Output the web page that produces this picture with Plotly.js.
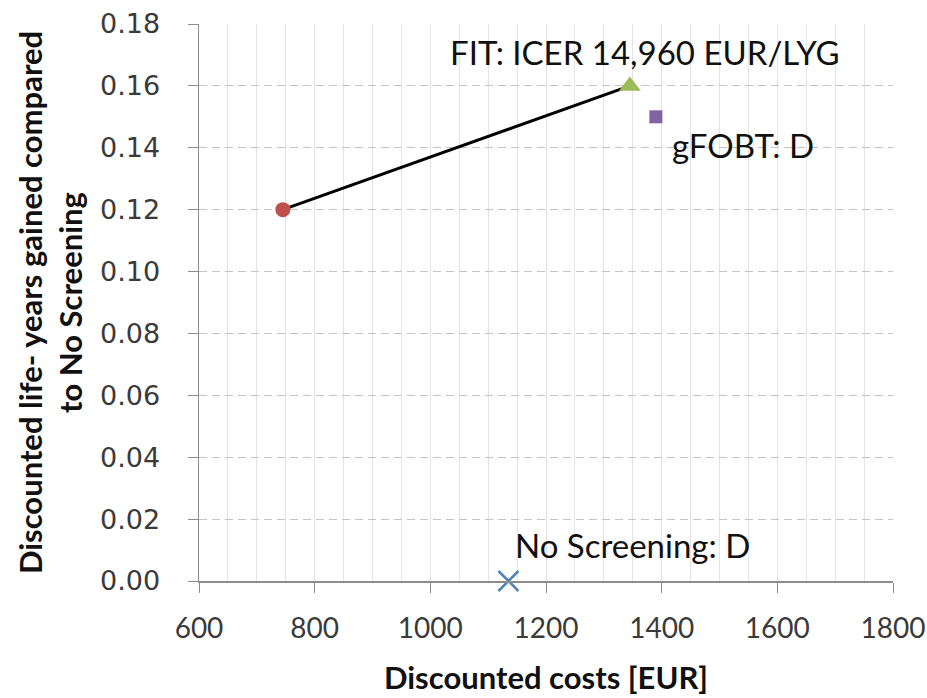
<!DOCTYPE html>
<html>
<head>
<meta charset="utf-8">
<script src="https://cdn.plot.ly/plotly-3.0.1.min.js"></script>
<style>html,body{margin:0;padding:0;background:#fff;}#chart{width:927px;height:698px;}</style>
</head>
<body>
<div id="chart"></div>
<script>
const strategies = ["No Screening", "FIT", "gFOBT", "Colonoscopy"];
const costs = [1135, 1345, 1390, 745];
const lyg = [0.0, 0.16, 0.15, 0.12];
const frontierCosts = [745, 1345];
const frontierLyg = [0.12, 0.16];
const labels = ["No Screening: D", "FIT: ICER 14,960 EUR/LYG", "gFOBT: D", ""];
const xTicks = [600, 800, 1000, 1200, 1400, 1600, 1800];
const yTicks = [0, 0.02, 0.04, 0.06, 0.08, 0.1, 0.12, 0.14, 0.16, 0.18];

const traces = [
  {x: frontierCosts, y: frontierLyg, mode: 'lines', type: 'scatter',
   line: {color: '#000000', width: 3}, hoverinfo: 'skip', showlegend: false},
  {x: [costs[0]], y: [lyg[0]], mode: 'markers', type: 'scatter', name: strategies[0],
   marker: {symbol: 'x-thin-open', size: 20, line: {color: '#4F81BD', width: 2.5}, color: '#4F81BD'}, cliponaxis: false},
  {x: [costs[1]], y: [lyg[1]], mode: 'markers', type: 'scatter', name: strategies[1],
   marker: {symbol: 'triangle-up', size: 19, color: '#9BBB59'}, cliponaxis: false},
  {x: [costs[2]], y: [lyg[2]], mode: 'markers', type: 'scatter', name: strategies[2],
   marker: {symbol: 'square', size: 13, color: '#8064A2'}, cliponaxis: false},
  {x: [costs[3]], y: [lyg[3]], mode: 'markers', type: 'scatter', name: strategies[3],
   marker: {symbol: 'circle', size: 15, color: '#C0504D'}, cliponaxis: false}
];

const annFont = {family: 'Lato, "Open Sans", sans-serif', size: 33, color: '#111111'};
const layout = {
  width: 927, height: 698,
  margin: {l: 199, r: 34, t: 24, b: 117},
  paper_bgcolor: '#ffffff', plot_bgcolor: '#ffffff',
  showlegend: false,
  xaxis: {
    range: [600, 1800], tickvals: xTicks, ticktext: xTicks.map(String),
    showgrid: true, gridcolor: '#e4e4e4', gridwidth: 1,
    minor: {dtick: 50, tick0: 600, showgrid: true, gridcolor: '#e4e4e4', gridwidth: 1},
    zeroline: false, showline: true, linecolor: '#8c8c8c', linewidth: 1.5,
    ticks: 'outside', ticklen: 10, tickcolor: '#8c8c8c',
    ticklabelstandoff: 12, ticklabeloverflow: 'allow',
    tickfont: {family: 'Lato, "Open Sans", sans-serif', size: 28, color: '#3a3a3a'},
    title: {text: '<b>Discounted costs [EUR]</b>', standoff: 24,
            font: {family: 'Lato, "Open Sans", sans-serif', size: 31, color: '#111111'}}
  },
  yaxis: {
    range: [0, 0.18], tickvals: yTicks, ticktext: yTicks.map(v => v.toFixed(2)),
    showgrid: true, gridcolor: '#c4c4c4', gridwidth: 1, griddash: '8px,5px',
    zeroline: false, showline: true, linecolor: '#8c8c8c', linewidth: 1.5,
    ticks: 'outside', ticklen: 10, tickcolor: '#8c8c8c',
    ticklabelstandoff: 22, ticklabeloverflow: 'allow',
    tickfont: {family: '"DejaVu Sans", Verdana, sans-serif', size: 27, color: '#3a3a3a'},
    title: {text: '<b>Discounted life- years gained compared<br>to No Screening</b>', standoff: 8,
            font: {family: 'Lato, "Open Sans", sans-serif', size: 31, color: '#111111'}}
  },
  annotations: [
    {x: 1371, y: 0.171, xref: 'x', yref: 'y', text: labels[1], showarrow: false,
     xanchor: 'center', yanchor: 'middle', font: annFont},
    {x: 1414, y: 0.1409, xref: 'x', yref: 'y', text: labels[2], showarrow: false,
     xanchor: 'left', yanchor: 'middle', font: annFont},
    {x: 1143, y: 0.0116, xref: 'x', yref: 'y', text: labels[0], showarrow: false,
     xanchor: 'left', yanchor: 'middle', font: annFont}
  ]
};

Plotly.newPlot('chart', traces, layout, {displayModeBar: false, staticPlot: true});
</script>
</body>
</html>
